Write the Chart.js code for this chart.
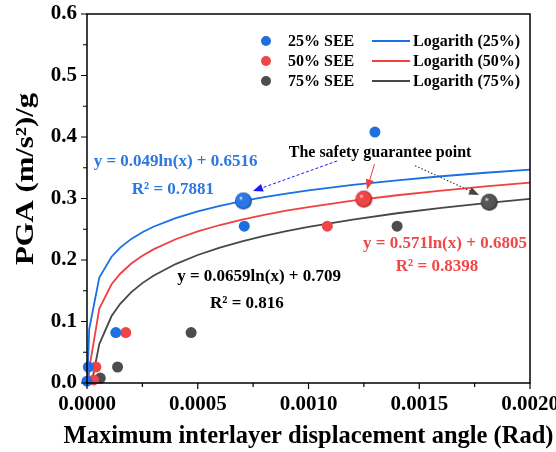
<!DOCTYPE html>
<html>
<head>
<meta charset="utf-8">
<script src="https://cdn.jsdelivr.net/npm/chart.js@4.4.1/dist/chart.umd.min.js"></script>
<style>
  html, body { margin: 0; padding: 0; background: #fff; }
  #wrap { width: 556px; height: 452px; }
</style>
</head>
<body>
<div id="wrap"><canvas id="pgaChart" width="556" height="452"></canvas></div>
<script>
const x25 = [0.0000, 0.000006, 0.00013, 0.00071, 0.00130];
const y25 = [0.003, 0.026, 0.082, 0.255, 0.408];
const x50 = [0.00003, 0.00004, 0.000175, 0.001085];
const y50 = [0.005, 0.026, 0.082, 0.255];
const x75 = [0.00006, 0.000138, 0.00047, 0.00140];
const y75 = [0.008, 0.026, 0.082, 0.255];

//  Safety guarantee points (25%, 50%, 75%)
const safeX = [0.000706, 0.00125, 0.001816];
const safeY = [0.296, 0.299, 0.294];

//  Logarithmic fit curves, as drawn
const fitX25 = [0.0000017, 0.00001, 0.0000555, 0.000111, 0.00015, 0.0002, 0.00025, 0.0003, 0.0004, 0.0005, 0.0006, 0.0007, 0.0008, 0.0009, 0.001, 0.0012, 0.0014, 0.0016, 0.0018, 0.002];
const fitY25 = [0, 0.0875, 0.1714, 0.2054, 0.2202, 0.2343, 0.2452, 0.2541, 0.2682, 0.2792, 0.2881, 0.2956, 0.3022, 0.3080, 0.3131, 0.3221, 0.3296, 0.3362, 0.3419, 0.3471];
const fitX50 = [0.0000067, 0.00001, 0.0000555, 0.000111, 0.00015, 0.0002, 0.00025, 0.0003, 0.0004, 0.0005, 0.0006, 0.0007, 0.0008, 0.0009, 0.001, 0.0012, 0.0014, 0.0016, 0.0018, 0.002];
const fitY50 = [0, 0.0231, 0.1210, 0.1606, 0.1777, 0.1942, 0.2069, 0.2173, 0.2338, 0.2465, 0.2569, 0.2657, 0.2733, 0.2801, 0.2861, 0.2965, 0.3053, 0.3129, 0.3196, 0.3257];
const fitX75 = [0.0000212, 0.0000555, 0.000111, 0.00015, 0.0002, 0.00025, 0.0003, 0.0004, 0.0005, 0.0006, 0.0007, 0.0008, 0.0009, 0.001, 0.0012, 0.0014, 0.0016, 0.0018, 0.002];
const fitY75 = [0, 0.0632, 0.1089, 0.1288, 0.1477, 0.1624, 0.1744, 0.1934, 0.2081, 0.2201, 0.2303, 0.2391, 0.2468, 0.2538, 0.2658, 0.2760, 0.2848, 0.2925, 0.2995];

const seriesNames = ['25% SEE', '50% SEE', '75% SEE'];
const fitNames    = ['Logarith (25%)', 'Logarith (50%)', 'Logarith (75%)'];
const equations   = ['y = 0.049ln(x) + 0.6516', 'y = 0.571ln(x) + 0.6805', 'y = 0.0659ln(x) + 0.709'];
const r2Labels    = ['R\u00B2 = 0.7881', 'R\u00B2 = 0.8398', 'R\u00B2 = 0.816'];
const xTitle      = 'Maximum interlayer displacement angle (Rad)';
const yTitle      = 'PGA (m/s\u00B2)/g';

const COLORS = {
  blue:  '#1f6fe0',
  red:   '#f04545',
  gray:  '#4d4d4d',
};
const SERIF = '"Liberation Serif", "Times New Roman", serif';

const pts = (xs, ys) => xs.map((x, i) => ({ x, y: ys[i] }));

//  Shaded sphere marker for the safety points
function makeSphere(base, dark, r) {
  const c = document.createElement('canvas');
  c.width = c.height = r * 2 + 2;
  const g = c.getContext('2d');
  const cx = r + 1, cy = r + 1;
  const grad = g.createRadialGradient(cx - r * 0.35, cy - r * 0.4, 0, cx, cy, r);
  grad.addColorStop(0, '#ffffff');
  grad.addColorStop(0.25, base);
  grad.addColorStop(0.8, base);
  grad.addColorStop(1, dark);
  g.fillStyle = grad;
  g.beginPath();
  g.arc(cx, cy, r, 0, Math.PI * 2);
  g.fill();
  return c;
}

function pointSet(label, xs, ys, color, order) {
  return {
    label, data: pts(xs, ys), order,
    backgroundColor: color, borderColor: color, borderWidth: 0,
    pointRadius: 5.5, pointHoverRadius: 5.5, clip: false,
  };
}

function fitSet(label, xs, ys, color, order) {
  return {
    label, data: pts(xs, ys), order,
    showLine: true, borderColor: color, backgroundColor: color,
    borderWidth: 1.8, pointRadius: 0, tension: 0, fill: false,
  };
}

function sphereSet(i, base, dark) {
  return {
    label: 'safety ' + seriesNames[i], order: 0, clip: false,
    data: [{ x: safeX[i], y: safeY[i] }],
    pointStyle: makeSphere(base, dark, 8.5), pointRadius: 9,
  };
}

//  Arrows + annotation text
function arrow(ctx, x1, y1, x2, y2, color, dash, width) {
  const ang = Math.atan2(y2 - y1, x2 - x1);
  const head = 10, half = 4;
  const bx = x2 - head * Math.cos(ang), by = y2 - head * Math.sin(ang);
  ctx.save();
  ctx.strokeStyle = color;
  ctx.fillStyle = color;
  ctx.lineWidth = width;
  ctx.setLineDash(dash);
  ctx.beginPath();
  ctx.moveTo(x1, y1);
  ctx.lineTo(bx, by);
  ctx.stroke();
  ctx.setLineDash([]);
  ctx.beginPath();
  ctx.moveTo(x2, y2);
  ctx.lineTo(bx + half * Math.sin(ang), by - half * Math.cos(ang));
  ctx.lineTo(bx - half * Math.sin(ang), by + half * Math.cos(ang));
  ctx.closePath();
  ctx.fill();
  ctx.restore();
}

const annotationPlugin = {
  id: 'annotations',
  afterDatasetsDraw(chart) {
    const { ctx, scales: { x, y } } = chart;
    const P = (vx, vy) => [x.getPixelForValue(vx), y.getPixelForValue(vy)];
    const text = (str, vx, vy, color, size) => {
      const [px, py] = P(vx, vy);
      ctx.fillStyle = color;
      ctx.font = `bold ${size}px ${SERIF}`;
      ctx.textAlign = 'center';
      ctx.textBaseline = 'middle';
      ctx.fillText(str, px, py);
    };
    ctx.save();
    text(equations[0], 0.000400, 0.3593, '#2a78e0', 17);
    text(r2Labels[0],  0.000388, 0.3138, '#2a78e0', 17);
    text(equations[1], 0.001616, 0.2260, '#f04848', 17);
    text(r2Labels[1],  0.001580, 0.1886, '#f04848', 17);
    text(equations[2], 0.000777, 0.1724, '#000', 17);
    text(r2Labels[2],  0.000722, 0.1285, '#000', 17);
    text('The safety guarantee point', 0.001323, 0.3740, '#000', 16);

    arrow(ctx, ...P(0.001129, 0.3610), ...P(0.000749, 0.3120), '#1a1aff', [3, 2], 1);
    arrow(ctx, ...P(0.001298, 0.3561), ...P(0.001264, 0.3146), '#f03c3c', [], 1);
    arrow(ctx, ...P(0.001481, 0.3533), ...P(0.001770, 0.3057), '#444', [1.5, 2], 1.2);
    ctx.restore();
  }
};

//  Frame, outward ticks, axis titles and the two-column legend
const framePlugin = {
  id: 'frame',
  afterDraw(chart) {
    const { ctx, chartArea: a, scales: { x, y } } = chart;
    ctx.save();
    ctx.strokeStyle = '#000';
    ctx.lineWidth = 1.5;
    ctx.strokeRect(a.left, a.top, a.right - a.left, a.bottom - a.top);

    ctx.lineWidth = 1.2;
    ctx.beginPath();
    x.ticks.forEach(t => {
      const px = x.getPixelForValue(t.value);
      const len = t.label !== '' ? 6 : 4;
      ctx.moveTo(px, a.bottom);
      ctx.lineTo(px, a.bottom + len);
    });
    y.ticks.forEach(t => {
      const py = y.getPixelForValue(t.value);
      const len = t.label !== '' ? 6 : 4;
      ctx.moveTo(a.left, py);
      ctx.lineTo(a.left - len, py);
    });
    ctx.stroke();

    // axis titles (the originals run past the plot edges)
    ctx.fillStyle = '#000';
    ctx.textAlign = 'center';
    ctx.textBaseline = 'middle';
    ctx.font = `bold 24.5px ${SERIF}`;
    ctx.fillText(xTitle, (a.left + a.right) / 2, a.bottom + 54);

    ctx.save();
    ctx.font = `bold 25px ${SERIF}`;
    const natural = ctx.measureText(yTitle).width;
    ctx.translate(27, a.top + 165);
    ctx.rotate(-Math.PI / 2);
    ctx.scale(172 / natural, 1);
    ctx.fillText(yTitle, 0, 0);
    ctx.restore();

    // legend
    const ds = chart.data.datasets;
    const rowY = [a.top + 27, a.top + 47, a.top + 67];
    ctx.font = `bold 16px ${SERIF}`;
    ctx.textAlign = 'left';
    ctx.textBaseline = 'middle';
    for (let i = 0; i < 3; i++) {
      const ry = rowY[i];
      ctx.fillStyle = ds[i].backgroundColor;
      ctx.beginPath();
      ctx.arc(a.left + 179, ry, 5, 0, Math.PI * 2);
      ctx.fill();
      ctx.fillStyle = '#000';
      ctx.fillText(seriesNames[i], a.left + 201, ry + 1);
      ctx.strokeStyle = ds[i + 3].borderColor;
      ctx.lineWidth = 1.8;
      ctx.beginPath();
      ctx.moveTo(a.left + 285, ry);
      ctx.lineTo(a.left + 323, ry);
      ctx.stroke();
      ctx.fillText(fitNames[i], a.left + 326, ry + 1);
    }
    ctx.restore();
  }
};

const isMultiple = (v, step) => Math.abs(v / step - Math.round(v / step)) < 1e-6;

new Chart(document.getElementById('pgaChart'), {
  type: 'scatter',
  data: {
    datasets: [
      pointSet(seriesNames[0], x25, y25, COLORS.blue, 1),
      pointSet(seriesNames[1], x50, y50, COLORS.red, 1),
      pointSet(seriesNames[2], x75, y75, COLORS.gray, 1),
      fitSet(fitNames[0], fitX25, fitY25, '#1a6ee6', 3),
      fitSet(fitNames[1], fitX50, fitY50, '#f04040', 3),
      fitSet(fitNames[2], fitX75, fitY75, '#474747', 3),
      sphereSet(0, '#2a78e8', '#0d3f8f'),
      sphereSet(1, '#f04545', '#9a1515'),
      sphereSet(2, '#555555', '#222222'),
    ]
  },
  options: {
    responsive: false,
    animation: false,
    layout: { padding: { left: 0, right: 26, top: 14, bottom: 0 } },
    scales: {
      x: {
        type: 'linear', min: 0, max: 0.002,
        afterFit: s => { s.height = 69; s.paddingLeft = 0; s.paddingRight = 0; },
        grid: { display: false, drawTicks: false },
        border: { display: false },
        ticks: {
          stepSize: 0.00025, autoSkip: false, maxRotation: 0, padding: 9,
          color: '#000', font: { family: SERIF, size: 21, weight: 'bold' },
          callback: v => isMultiple(v, 0.0005) ? v.toFixed(4) : '',
        },
        title: { display: false },
      },
      y: {
        type: 'linear', min: 0, max: 0.6,
        afterFit: s => { s.width = 87; s.paddingTop = 0; s.paddingBottom = 0; },
        grid: { display: false, drawTicks: false },
        border: { display: false },
        ticks: {
          stepSize: 0.05, autoSkip: false, padding: 10,
          color: '#000', font: { family: SERIF, size: 21, weight: 'bold' },
          callback: v => isMultiple(v, 0.1) ? v.toFixed(1) : '',
        },
        title: { display: false },
      },
    },
    plugins: {
      legend: { display: false },
      tooltip: { enabled: false },
    },
  },
  plugins: [annotationPlugin, framePlugin],
});
</script>
</body>
</html>
